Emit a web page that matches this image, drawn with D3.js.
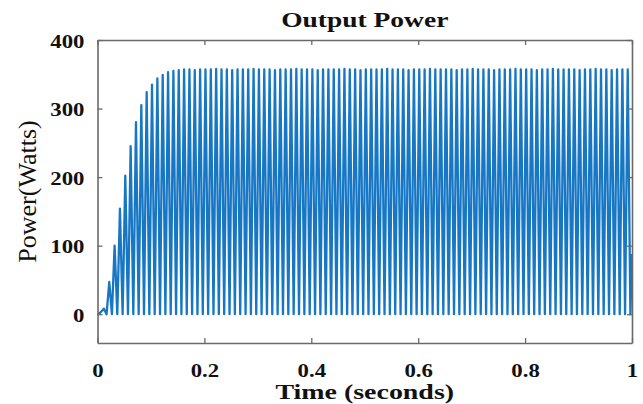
<!DOCTYPE html>
<html>
<head>
<meta charset="utf-8">
<script src="https://cdn.jsdelivr.net/npm/d3@7"></script>
<style>
  body { margin: 0; background: #fff; }
  svg { display: block; }
</style>
</head>
<body>
<svg id="chart" width="643" height="404"></svg>
<script>
// values (time in ms, power in W)
const startTime = [0, 5];
const startPower = [0, 2];

const peakTime = [
  12, 22, 32, 42, 52, 62, 72, 82, 92, 102,
  112, 122, 132, 142, 152, 162, 172, 182, 192, 202,
  212, 222, 232, 242, 252, 262, 272, 282, 292, 302,
  312, 322, 332, 342, 352, 362, 372, 382, 392, 402,
  412, 422, 432, 442, 452, 462, 472, 482, 492, 502,
  512, 522, 532, 542, 552, 562, 572, 582, 592, 602,
  612, 622, 632, 642, 652, 662, 672, 682, 692, 702,
  712, 722, 732, 742, 752, 762, 772, 782, 792, 802,
  812, 822, 832, 842, 852, 862, 872, 882, 892, 902,
  912, 922, 932, 942, 952, 962, 972, 982, 992
];
const peakPower = [
  8, 47, 100, 154, 202, 245, 280, 305, 324, 335,
  344, 349, 353, 355, 356, 357, 357, 356, 357, 357,
  357, 358, 357, 357, 356, 357, 357, 357, 358, 357,
  357, 357, 356, 357, 357, 357, 358, 357, 357, 357,
  356, 357, 357, 357, 357, 358, 357, 357, 356, 357,
  357, 357, 357, 358, 357, 357, 357, 356, 357, 357,
  357, 358, 357, 357, 357, 357, 356, 357, 357, 358,
  357, 357, 357, 356, 357, 357, 357, 358, 357, 357,
  357, 356, 357, 357, 358, 357, 357, 357, 357, 356,
  357, 357, 358, 357, 357, 356, 357, 357, 357
];
const troughTime = [
  17, 27, 37, 47, 57, 67, 77, 87, 97, 107,
  117, 127, 137, 147, 157, 167, 177, 187, 197, 207,
  217, 227, 237, 247, 257, 267, 277, 287, 297, 307,
  317, 327, 337, 347, 357, 367, 377, 387, 397, 407,
  417, 427, 437, 447, 457, 467, 477, 487, 497, 507,
  517, 527, 537, 547, 557, 567, 577, 587, 597, 607,
  617, 627, 637, 647, 657, 667, 677, 687, 697, 707,
  717, 727, 737, 747, 757, 767, 777, 787, 797, 807,
  817, 827, 837, 847, 857, 867, 877, 887, 897, 907,
  917, 927, 937, 947, 957, 967, 977, 987, 997
];
const troughPower = [
  0, 0, 0, 0, 0, 0, 0, 0, 0, 0,
  0, 0, 0, 0, 0, 0, 0, 0, 0, 0,
  0, 0, 0, 0, 0, 0, 0, 0, 0, 0,
  0, 0, 0, 0, 0, 0, 0, 0, 0, 0,
  0, 0, 0, 0, 0, 0, 0, 0, 0, 0,
  0, 0, 0, 0, 0, 0, 0, 0, 0, 0,
  0, 0, 0, 0, 0, 0, 0, 0, 0, 0,
  0, 0, 0, 0, 0, 0, 0, 0, 0, 0,
  0, 0, 0, 0, 0, 0, 0, 0, 0, 0,
  0, 0, 0, 0, 0, 0, 0, 0, 0
];
const endTime = [1000];
const endPower = [88];

const xTicks = [0, 0.2, 0.4, 0.6, 0.8, 1];
const yTicks = [0, 100, 200, 300, 400];

const margin = { left: 97.5, right: 11, top: 40, bottom: 61 };
const width = 643, height = 404;
const stretch = 1.2; // the picture's text is a bit wide

const svg = d3.select("#chart");

const x = d3.scaleLinear().domain([0, 1]).range([margin.left, width - margin.right]);
const y = d3.scaleLinear().domain([-42, 400]).range([height - margin.bottom, margin.top]);

// build the trace: start, then peak / trough pairs
let samples = [];
startTime.forEach((t, i) => samples.push([t, startPower[i]]));
peakTime.forEach((t, i) => {
    samples.push([t, peakPower[i]]);
    samples.push([troughTime[i], troughPower[i]]);
});
endTime.forEach((t, i) => samples.push([t, endPower[i]]));

svg.append("clipPath").attr("id", "plot-clip")
    .append("rect")
    .attr("x", x(0)).attr("y", y(400))
    .attr("width", x(1) - x(0)).attr("height", y(-42) - y(400));

const line = d3.line()
    .x(d => x(d[0] / 1000))
    .y(d => y(d[1]));

svg.append("path")
    .datum(samples)
    .attr("clip-path", "url(#plot-clip)")
    .attr("fill", "none")
    .attr("stroke", "#1777c4")
    .attr("stroke-width", 2.3)
    .attr("stroke-linejoin", "round")
    .attr("d", line);

// axes, MATLAB style box with inward ticks
const axisColor = "#6a6a6a";
const tickFont = "'Liberation Serif', serif";

function styleAxis(g) {
    g.select(".domain").attr("stroke", axisColor).attr("stroke-width", 1.6);
    g.selectAll(".tick line").attr("stroke", axisColor).attr("stroke-width", 1.3);
}

const axBottom = svg.append("g")
    .attr("transform", `translate(0,${y(-42)})`)
    .call(d3.axisBottom(x).tickValues(xTicks).tickFormat(d3.format("")).tickSizeInner(-5).tickSizeOuter(0).tickPadding(12));
styleAxis(axBottom);

const axLeft = svg.append("g")
    .attr("transform", `translate(${x(0)},0)`)
    .call(d3.axisLeft(y).tickValues(yTicks).tickSizeInner(-5).tickSizeOuter(0).tickPadding(12));
styleAxis(axLeft);

const axTop = svg.append("g")
    .attr("transform", `translate(0,${y(400)})`)
    .call(d3.axisTop(x).tickValues(xTicks).tickFormat("").tickSizeInner(-5).tickSizeOuter(0));
styleAxis(axTop);

const axRight = svg.append("g")
    .attr("transform", `translate(${x(1)},0)`)
    .call(d3.axisRight(y).tickValues(yTicks).tickFormat("").tickSizeInner(-5).tickSizeOuter(0));
styleAxis(axRight);

[axBottom, axLeft].forEach(g => {
    g.selectAll(".tick text")
        .attr("fill", "#111")
        .style("font-family", tickFont)
        .style("font-weight", "bold")
        .style("font-size", "19px");
});
// widen the labels around their own anchor
axBottom.selectAll(".tick text")
    .attr("y", null).attr("dy", null)
    .attr("transform", `translate(0,34) scale(${stretch},1)`);
axLeft.selectAll(".tick text")
    .attr("x", null).attr("dy", null)
    .attr("transform", `translate(-13,7) scale(${stretch},1)`);

// titles
svg.append("text")
    .attr("transform", `translate(${(x(0) + x(1)) / 2},27) scale(1.25,1)`)
    .attr("text-anchor", "middle")
    .style("font-family", tickFont)
    .style("font-weight", "bold")
    .style("font-size", "22px")
    .attr("fill", "#111")
    .text("Output Power");

svg.append("text")
    .attr("transform", `translate(${(x(0) + x(1)) / 2},399) scale(1.27,1)`)
    .attr("text-anchor", "middle")
    .style("font-family", tickFont)
    .style("font-weight", "bold")
    .style("font-size", "22px")
    .attr("fill", "#111")
    .text("Time (seconds)");

svg.append("text")
    .attr("transform", `translate(36,${(y(400) + y(-42)) / 2}) rotate(-90)`)
    .attr("text-anchor", "middle")
    .style("font-family", tickFont)
    .style("font-size", "26px")
    .attr("fill", "#111")
    .text("Power(Watts)");
</script>
</body>
</html>
